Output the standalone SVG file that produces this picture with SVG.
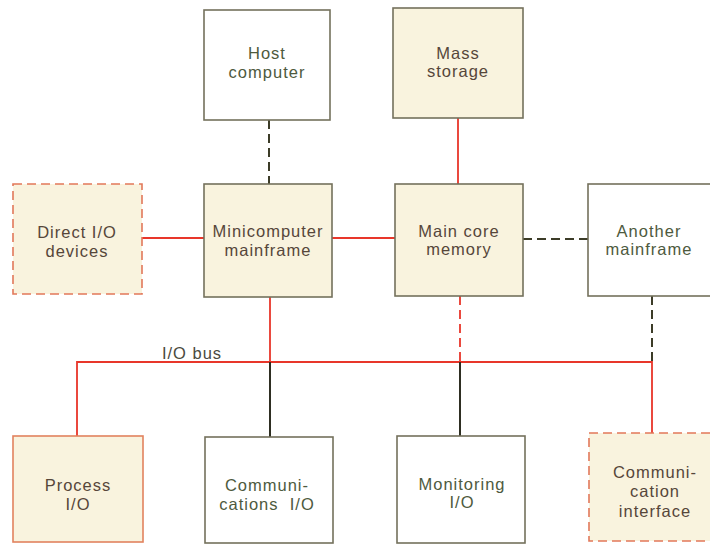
<svg xmlns="http://www.w3.org/2000/svg" width="710" height="544" viewBox="0 0 710 544">
  <defs>
    <style>
      .box { stroke: #74715c; stroke-width: 1.6; }
      .plain { fill: #ffffff; }
      .tint { fill: #f9f3de; }
      .dash-or { fill: #f9f3de; stroke: #e2785a; stroke-width: 1.6; stroke-dasharray: 9 5; }
      .solid-or { fill: #f9f3de; stroke: #e2825e; stroke-width: 1.6; }
      text { font-family: "Liberation Sans", Arial, sans-serif; font-size: 16.5px; text-anchor: middle; letter-spacing: 1px; }
      .t-br { fill: #56463a; }
      .t-gr { fill: #4e5a3e; }
      .red { stroke: #e8362a; stroke-width: 1.8; fill: none; }
      .reddash { stroke: #e8362a; stroke-width: 1.8; fill: none; stroke-dasharray: 9 5; }
      .blk { stroke: #2e2e22; stroke-width: 2; fill: none; }
      .blkdash { stroke: #3c3c28; stroke-width: 2; fill: none; stroke-dasharray: 9 5; }
    </style>
  </defs>
  <rect width="710" height="544" fill="#ffffff"/>

  <g id="connectors">
    <!-- host to minicomputer -->
    <line class="blkdash" x1="269" y1="120" x2="269" y2="184"/>
    <!-- mass storage to memory -->
    <line class="red" x1="458" y1="118" x2="458" y2="184"/>
    <!-- direct I/O to minicomputer -->
    <line class="red" x1="142" y1="238" x2="204" y2="238"/>
    <!-- minicomputer to memory -->
    <line class="red" x1="332" y1="238" x2="395" y2="238"/>
    <!-- memory to another mainframe -->
    <line class="blkdash" x1="523" y1="239" x2="588" y2="239"/>
    <!-- I/O bus -->
    <polyline class="red" points="77,436 77,362 652,362 652,433"/>
    <line class="red" x1="270" y1="297" x2="270" y2="362"/>
    <line class="blk" x1="270" y1="362" x2="270" y2="437"/>
    <line class="reddash" x1="460" y1="296" x2="460" y2="362"/>
    <line class="blk" x1="460" y1="362" x2="460" y2="436"/>
    <line class="blkdash" x1="652" y1="296" x2="652" y2="362"/>
    <text x="192" y="359" fill="#4a4a40">I/O bus</text>
  </g>

  <g id="host">
    <rect class="box plain" x="204" y="10" width="126" height="110"/>
    <text class="t-gr" x="267" y="59">Host</text>
    <text class="t-gr" x="267" y="78">computer</text>
  </g>
  <g id="mass-storage">
    <rect class="box tint" x="393" y="8" width="130" height="110"/>
    <text class="t-br" x="458" y="59">Mass</text>
    <text class="t-br" x="458" y="77">storage</text>
  </g>
  <g id="direct-io">
    <rect class="dash-or" x="13" y="184" width="129" height="110"/>
    <text class="t-br" x="77" y="238">Direct I/O</text>
    <text class="t-br" x="77" y="257">devices</text>
  </g>
  <g id="minicomputer">
    <rect class="box tint" x="204" y="184" width="128" height="113"/>
    <text class="t-br" x="268" y="237">Minicomputer</text>
    <text class="t-br" x="268" y="256">mainframe</text>
  </g>
  <g id="main-memory">
    <rect class="box tint" x="395" y="184" width="128" height="112"/>
    <text class="t-br" x="459" y="237">Main core</text>
    <text class="t-br" x="459" y="255">memory</text>
  </g>
  <g id="another-mainframe">
    <rect class="box plain" x="588" y="184" width="124" height="112"/>
    <text class="t-gr" x="649" y="237">Another</text>
    <text class="t-gr" x="649" y="255">mainframe</text>
  </g>
  <g id="process-io">
    <rect class="solid-or" x="13" y="436" width="130" height="106"/>
    <text class="t-br" x="78" y="491">Process</text>
    <text class="t-br" x="78" y="510">I/O</text>
  </g>
  <g id="communications-io">
    <rect class="box plain" x="205" y="437" width="128" height="106"/>
    <text class="t-gr" x="267" y="491">Communi-</text>
    <text class="t-gr" x="267" y="510" xml:space="preserve">cations  I/O</text>
  </g>
  <g id="monitoring-io">
    <rect class="box plain" x="397" y="436" width="128" height="107"/>
    <text class="t-gr" x="462" y="490">Monitoring</text>
    <text class="t-gr" x="462" y="508">I/O</text>
  </g>
  <g id="communication-interface">
    <rect class="dash-or" x="589" y="433" width="123" height="108"/>
    <text class="t-br" x="655" y="478">Communi-</text>
    <text class="t-br" x="655" y="497">cation</text>
    <text class="t-br" x="655" y="517">interface</text>
  </g>
</svg>
